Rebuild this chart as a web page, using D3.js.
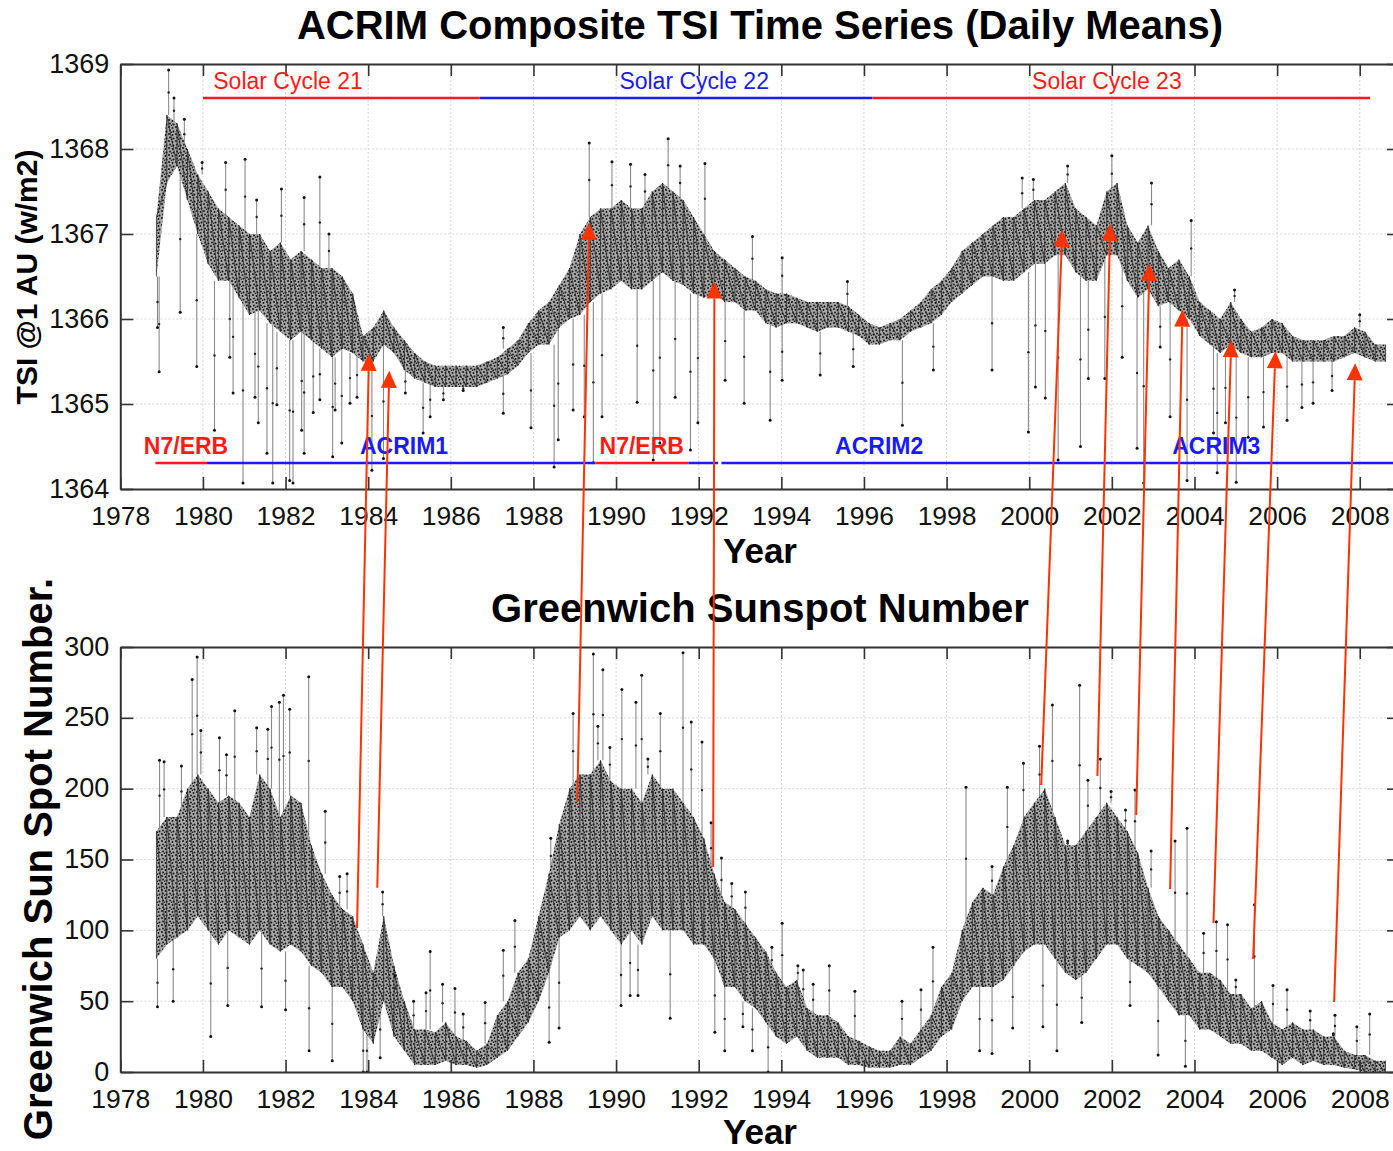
<!DOCTYPE html>
<html>
<head>
<meta charset="utf-8">
<script src="https://cdn.jsdelivr.net/npm/d3@7"></script>
<style>
  body { margin: 0; background: #fff; }
  svg { display: block; font-family: "Liberation Sans", Arial, Helvetica, sans-serif; }
</style>
</head>
<body>
<div id="chart"></div>
<script>
// quarter-year sampling grid for the core band of each series
const years = d3.range(120).map(i => 1978.875 + i * 0.25);

// TSI core band (W/m2), low and high edges
const tsiLo = [1366.5,1367.6,1367.8,1367.4,1367.0,1366.65,1366.45,1366.45,1366.25,1366.05,1366.1,1365.95,1365.85,1365.75,1365.85,1365.75,1365.65,1365.55,1365.65,1365.6,
  1365.5,1365.5,1365.7,1365.6,1365.4,1365.3,1365.25,1365.2,1365.2,1365.2,1365.2,1365.2,1365.25,1365.3,1365.35,1365.45,1365.6,1365.7,1365.7,1365.9,
  1366.0,1366.05,1366.2,1366.3,1366.35,1366.45,1366.35,1366.35,1366.45,1366.55,1366.45,1366.4,1366.3,1366.25,1366.3,1366.2,1366.2,1366.1,1366.1,1365.95,
  1365.9,1365.95,1365.95,1365.9,1365.85,1365.9,1365.9,1365.85,1365.8,1365.7,1365.7,1365.75,1365.75,1365.85,1365.9,1365.95,1366.05,1366.2,1366.3,1366.4,
  1366.5,1366.5,1366.45,1366.45,1366.55,1366.65,1366.65,1366.75,1366.75,1366.55,1366.45,1366.45,1366.75,1366.75,1366.45,1366.25,1366.35,1366.15,1366.2,1366.1,
  1366.0,1365.8,1365.7,1365.6,1365.7,1365.6,1365.55,1365.55,1365.6,1365.6,1365.5,1365.5,1365.5,1365.5,1365.5,1365.55,1365.6,1365.55,1365.5,1365.5];
const tsiHi = [1367.2,1368.4,1368.3,1368.0,1367.7,1367.5,1367.3,1367.2,1367.1,1367.0,1367.0,1366.8,1366.9,1366.7,1366.8,1366.7,1366.6,1366.6,1366.5,1366.3,
  1365.8,1365.9,1366.1,1365.9,1365.75,1365.6,1365.5,1365.45,1365.45,1365.45,1365.45,1365.45,1365.5,1365.55,1365.65,1365.75,1365.95,1366.1,1366.2,1366.4,
  1366.6,1367.0,1367.2,1367.3,1367.3,1367.4,1367.3,1367.3,1367.5,1367.6,1367.5,1367.4,1367.2,1367.0,1366.8,1366.7,1366.6,1366.5,1366.45,1366.35,
  1366.3,1366.3,1366.25,1366.2,1366.2,1366.2,1366.2,1366.15,1366.05,1365.95,1365.9,1365.95,1366.0,1366.1,1366.2,1366.35,1366.45,1366.6,1366.8,1366.9,
  1367.0,1367.1,1367.2,1367.2,1367.3,1367.4,1367.4,1367.5,1367.6,1367.3,1367.2,1367.1,1367.5,1367.6,1367.1,1366.9,1367.1,1366.8,1366.6,1366.7,
  1366.5,1366.2,1366.1,1366.0,1366.2,1366.0,1365.85,1365.9,1366.0,1365.95,1365.8,1365.75,1365.75,1365.75,1365.8,1365.8,1365.9,1365.85,1365.7,1365.7];

// isolated TSI excursions [year, W/m2]
const tsiSpikes = [[1978.94,1365.38],[1978.9,1365.9],[1979.17,1368.93],[1979.3,1368.6],[1979.45,1366.08],[1979.55,1368.35],[1979.85,1365.44],
  [1979.98,1367.84],[1980.28,1364.69],[1980.55,1367.84],[1980.65,1365.55],[1980.73,1365.13],[1980.97,1364.07],[1981.02,1367.88],[1981.26,1365.08],
  [1981.3,1367.4],[1981.34,1364.78],[1981.55,1364.42],[1981.69,1364.07],[1981.79,1364.99],[1981.9,1367.53],[1982.1,1364.1],[1982.18,1364.07],
  [1982.39,1364.69],[1982.45,1364.42],[1982.45,1367.43],[1982.67,1364.9],[1982.83,1367.67],[1982.83,1365.05],[1983.05,1367.0],[1983.14,1364.38],
  [1983.2,1364.93],[1983.36,1364.54],[1983.56,1365.01],[1983.73,1365.08],[1984.09,1364.22],[1984.37,1364.36],[1984.9,1365.13],[1985.33,1364.66],
  [1985.5,1364.85],[1985.82,1365.05],[1986.3,1365.16],[1987.27,1364.89],[1987.27,1365.9],[1987.94,1364.72],[1988.5,1364.26],[1988.6,1364.58],
  [1988.96,1364.93],[1989.23,1364.85],[1989.35,1368.07],[1989.45,1364.31],[1989.66,1364.85],[1989.9,1367.85],[1990.35,1367.82],[1990.51,1365.02],
  [1990.7,1367.7],[1990.9,1364.34],[1991.06,1364.54],[1991.26,1368.12],[1991.43,1365.08],[1991.55,1367.8],[1991.8,1364.46],[1991.98,1364.78],
  [1992.15,1367.83],[1992.64,1365.28],[1993.1,1365.01],[1993.3,1366.97],[1993.73,1364.81],[1994.02,1365.28],[1994.02,1366.72],[1994.94,1365.34],
  [1995.6,1366.44],[1995.74,1365.44],[1996.93,1364.75],[1997.68,1365.4],[1999.1,1365.4],[1999.83,1367.66],[1999.98,1364.67],[2000.1,1367.64],
  [2000.15,1365.2],[2000.39,1365.07],[2000.7,1364.34],[2000.93,1367.8],[2001.24,1364.5],[2001.43,1365.3],[2001.83,1365.3],[2002.0,1367.92],
  [2002.25,1365.55],[2002.61,1364.48],[2002.77,1364.07],[2002.96,1367.6],[2003.17,1365.67],[2003.41,1364.85],[2003.82,1364.1],[2003.92,1367.16],
  [2004.46,1364.66],[2004.55,1364.19],[2004.75,1364.78],[2004.97,1366.34],[2005.01,1364.08],[2005.3,1364.61],[2005.67,1364.73],[2006.24,1364.81],
  [2006.6,1364.96],[2006.87,1365.01],[2007.33,1365.16],[2008.0,1366.05]];

// sunspot number core band
const sunLo = [80,90,95,100,110,100,90,100,95,90,100,90,85,90,85,75,70,60,60,50,
  30,20,50,25,15,5,5,5,8,5,5,3,5,10,15,25,35,50,70,95,
  100,110,100,110,100,90,100,90,110,100,100,100,90,90,80,60,60,50,45,35,
  25,20,25,15,10,10,10,5,5,3,3,3,5,5,10,15,25,30,50,60,
  60,60,65,75,85,90,90,80,70,65,70,80,90,90,80,75,70,60,50,40,
  40,30,30,25,20,20,15,15,10,5,10,5,8,5,5,3,2,0,0,0];
const sunHi = [170,180,180,200,210,200,190,195,190,180,210,200,180,195,190,160,140,125,115,110,
  90,70,110,75,50,30,30,28,35,25,22,15,20,40,50,70,80,110,140,175,
  200,210,210,220,205,200,200,190,210,200,200,190,180,165,140,120,115,105,95,85,
  70,60,65,45,40,40,35,25,22,18,15,15,25,20,30,40,60,70,100,120,
  130,125,145,160,180,190,200,180,160,160,170,180,190,180,170,155,130,110,100,90,
  80,70,70,65,55,55,45,50,35,30,35,30,30,25,25,15,12,12,8,8];

// isolated sunspot excursions [year, number]
const sunSpikes = [[1978.9,46],[1978.95,220],[1979.06,219],[1979.28,50],[1979.48,216],[1979.74,277],[1979.86,293],[1979.95,241],[1980.19,25],
  [1980.4,236],[1980.57,224],[1980.6,47],[1980.77,255],[1981.3,243],[1981.42,46],[1981.57,242],[1981.66,258],[1981.85,261],[1981.95,266],
  [1982.0,44],[1982.1,256],[1982.56,279],[1982.57,15],[1982.96,184],[1983.13,8],[1983.31,138],[1983.49,140],[1983.88,0],[1983.97,0],
  [1984.29,10],[1984.35,127],[1984.65,68],[1985.1,50],[1985.4,56],[1985.5,85],[1985.8,62],[1986.1,59],[1986.3,41],[1986.83,49],[1987.27,86],
  [1987.55,107],[1988.38,21],[1988.42,165],[1988.62,31],[1988.96,253],[1989.45,295],[1989.56,244],[1989.68,284],[1989.85,229],[1990.12,47],
  [1990.14,270],[1990.34,54],[1990.48,261],[1990.53,54],[1990.62,280],[1990.77,221],[1991.07,253],[1991.31,38],[1991.62,296],[1991.82,247],
  [1992.08,233],[1992.3,176],[1992.39,28],[1992.55,151],[1992.63,15],[1992.8,133],[1993.07,32],[1993.13,127],[1993.3,15],[1993.68,0],
  [1993.77,88],[1994.02,105],[1994.4,75],[1994.53,72],[1994.77,62],[1995.16,75],[1995.78,57],[1996.92,50],[1997.38,58],[1997.67,88],
  [1998.47,201],[1998.8,15],[1999.1,145],[1999.1,13],[1999.47,201],[1999.6,31],[1999.86,218],[2000.25,230],[2000.33,32],[2000.56,259],
  [2000.67,15],[2000.93,163],[2001.22,273],[2001.27,35],[2001.42,206],[2001.72,221],[2001.98,198],[2002.33,185],[2002.44,47],[2002.56,199],
  [2002.95,156],[2003.12,12],[2003.53,163],[2003.78,4],[2003.82,172],[2004.22,98],[2004.53,106],[2004.8,104],[2005.0,65],[2005.45,118],
  [2005.9,61],[2006.24,58],[2006.8,43],[2007.36,27],[2007.4,40],[2007.93,32],[2008.24,41]];

// tick labels
const xTicks = d3.range(1978, 2009, 2);
const tsiTicks = [1364, 1365, 1366, 1367, 1368, 1369];
const sunTicks = [0, 50, 100, 150, 200, 250, 300];

// solar cycle bars and instrument bars
const cycles = [
  { label: 'Solar Cycle 21', start: 1980.0, end: 1986.7, labelAt: 1980.25, color: '#ff1a1a' },
  { label: 'Solar Cycle 22', start: 1986.7, end: 1996.2, labelAt: 1990.08, color: '#1a1aff' },
  { label: 'Solar Cycle 23', start: 1996.2, end: 2008.25, labelAt: 2000.07, color: '#ff1a1a' }
];
const instrumentBars = [
  { start: 1978.85, end: 1980.1, color: '#ff1a1a' },
  { start: 1980.1, end: 1989.5, color: '#1a1aff' },
  { start: 1989.5, end: 1991.75, color: '#ff1a1a' },
  { start: 1991.75, end: 1992.47, color: '#1a1aff' },
  { start: 1992.55, end: 2008.95, color: '#1a1aff' }
];
const instrumentLabels = [
  { label: 'N7/ERB', at: 1978.57, color: '#ff1a1a' },
  { label: 'ACRIM1', at: 1983.8, color: '#1a1aff' },
  { label: 'N7/ERB', at: 1989.6, color: '#ff1a1a' },
  { label: 'ACRIM2', at: 1995.3, color: '#1a1aff' },
  { label: 'ACRIM3', at: 2003.46, color: '#1a1aff' }
];

// arrows: sunspot point (tail) -> TSI point (head)
const arrows = [
  { ss: [1983.73, 101.6], tsi: [1984.02, 1365.59] },
  { ss: [1984.22, 130], tsi: [1984.51, 1365.39] },
  { ss: [1989.06, 190.6], tsi: [1989.35, 1367.13] },
  { ss: [1992.35, 144.7], tsi: [1992.38, 1366.44] },
  { ss: [2000.29, 202.6], tsi: [2000.80, 1367.05] },
  { ss: [2001.65, 209], tsi: [2001.96, 1367.12] },
  { ss: [2002.59, 181.4], tsi: [2002.91, 1366.65] },
  { ss: [2003.41, 129.2], tsi: [2003.71, 1366.11] },
  { ss: [2004.46, 105.2], tsi: [2004.89, 1365.75] },
  { ss: [2005.42, 79.8], tsi: [2005.96, 1365.62] },
  { ss: [2007.38, 49.4], tsi: [2007.89, 1365.48] }
];

const width = 1393, height = 1151;
const left = 120.3, right = 1399;
const svg = d3.select('#chart').append('svg')
  .attr('width', width).attr('height', height)
  .style('overflow', 'hidden');

const defs = svg.append('defs');
const pat = defs.append('pattern').attr('id', 'speck')
  .attr('width', 7).attr('height', 7).attr('patternUnits', 'userSpaceOnUse');
pat.append('rect').attr('width', 7).attr('height', 7).attr('fill', '#a6a6a6');
[[1, 1, 1], [4.5, 2, 0.9], [2, 4.5, 0.9], [5.5, 5.5, 1], [3.5, 6.2, 0.7]].forEach(p =>
  pat.append('circle').attr('cx', p[0]).attr('cy', p[1]).attr('r', p[2]).attr('fill', '#111'));

const x = d3.scaleLinear().domain([1978, 2008.95]).range([left, right]);
const yT = d3.scaleLinear().domain([1364, 1369]).range([489, 64]);
const yS = d3.scaleLinear().domain([0, 300]).range([1072, 647]);

function panel(y, ticks, lo, hi, spikes, id) {
  const [y0, y1] = y.range();
  defs.append('clipPath').attr('id', id)
    .append('rect').attr('x', left).attr('y', y1).attr('width', right - left).attr('height', y0 - y1);

  // grid
  const grid = svg.append('g').attr('stroke', '#d4d4d4').attr('stroke-width', 1).attr('stroke-dasharray', '2,2');
  grid.selectAll('.gx').data(xTicks.slice(1)).enter().append('line')
    .attr('x1', d => x(d)).attr('x2', d => x(d)).attr('y1', y1).attr('y2', y0);
  grid.selectAll('.gy').data(ticks.slice(1, -1)).enter().append('line')
    .attr('x1', left).attr('x2', right).attr('y1', d => y(d)).attr('y2', d => y(d));

  const g = svg.append('g').attr('clip-path', 'url(#' + id + ')');
  const pts = years.map((t, i) => ({ t: t, lo: lo[i], hi: hi[i] }));

  // spikes behind the core
  const spk = spikes.map(s => {
    const i = d3.minIndex(years, t => Math.abs(t - s[0]));
    const base = s[1] > hi[i] ? hi[i] : (s[1] < lo[i] ? lo[i] : (lo[i] + hi[i]) / 2);
    return { t: s[0], v: s[1], base: base };
  });
  g.selectAll('.spike').data(spk).enter().append('line')
    .attr('x1', d => x(d.t)).attr('x2', d => x(d.t))
    .attr('y1', d => y(d.base)).attr('y2', d => y(d.v))
    .attr('stroke', '#8a8a8a').attr('stroke-width', 1.1);

  g.append('path').datum(pts)
    .attr('fill', 'url(#speck)')
    .attr('d', d3.area().x(d => x(d.t)).y0(d => y(d.lo)).y1(d => y(d.hi)));

  // saw-tooth scribble through the band edges
  const saw = [];
  pts.forEach(p => { saw.push([x(p.t), y(p.lo)]); saw.push([x(p.t), y(p.hi)]); });
  g.append('path').attr('d', d3.line()(saw))
    .attr('fill', 'none').attr('stroke', '#2a2a2a').attr('stroke-width', 0.8);
  g.selectAll('.tip').data(spk).enter().append('circle')
    .attr('cx', d => x(d.t)).attr('cy', d => y(d.v)).attr('r', 1.5).attr('fill', '#111');
  g.selectAll('.mid').data(spk).enter().append('circle')
    .attr('cx', d => x(d.t)).attr('cy', d => (y(d.v) + y(d.base)) / 2).attr('r', 1.2).attr('fill', '#222');

  // axes: inward ticks on all four sides
  const ax = svg.append('g');
  const bx = ax.append('g').attr('transform', 'translate(0,' + y0 + ')')
    .call(d3.axisBottom(x).tickValues(xTicks).tickSizeInner(-12).tickSizeOuter(0).tickPadding(17).tickFormat(d3.format('d')));
  ax.append('g').attr('transform', 'translate(0,' + y1 + ')')
    .call(d3.axisTop(x).tickValues(xTicks).tickSizeInner(-12).tickSizeOuter(0).tickFormat(''));
  const lx = ax.append('g').attr('transform', 'translate(' + left + ',0)')
    .call(d3.axisLeft(y).tickValues(ticks).tickSizeInner(-13).tickSizeOuter(0).tickPadding(11).tickFormat(d3.format('d')));
  ax.append('g').attr('transform', 'translate(' + right + ',0)')
    .call(d3.axisRight(y).tickValues(ticks).tickSizeInner(-12).tickSizeOuter(0).tickFormat(''));
  ax.selectAll('.domain').attr('stroke', '#333').attr('stroke-width', 2);
  ax.selectAll('.tick line').attr('stroke', '#333').attr('stroke-width', 1.6);
  ax.selectAll('text').attr('fill', '#111')
    .style('font-family', '"Liberation Sans", Arial, sans-serif');
  bx.selectAll('text').style('font-size', '26.5px');
  lx.selectAll('text').style('font-size', '27px').attr('dy', '0.3em');
}

panel(yT, tsiTicks, tsiLo, tsiHi, tsiSpikes, 'clipT');
panel(yS, sunTicks, sunLo, sunHi, sunSpikes, 'clipS');

// solar cycle bars
svg.selectAll('.cyc').data(cycles).enter().append('line')
  .attr('x1', d => x(d.start)).attr('x2', d => x(d.end)).attr('y1', 98).attr('y2', 98)
  .attr('stroke', d => d.color).attr('stroke-width', 2.5);
svg.selectAll('.cyclab').data(cycles).enter().append('text')
  .attr('x', d => x(d.labelAt)).attr('y', 89).attr('fill', d => d.color)
  .style('font-size', '23px').text(d => d.label);

// instrument bars
svg.selectAll('.ins').data(instrumentBars).enter().append('line')
  .attr('x1', d => x(d.start)).attr('x2', d => x(d.end)).attr('y1', 463).attr('y2', 463)
  .attr('stroke', d => d.color).attr('stroke-width', 2.5);
svg.selectAll('.inslab').data(instrumentLabels).enter().append('text')
  .attr('x', d => x(d.at)).attr('y', 454).attr('fill', d => d.color)
  .style('font-size', '23px').style('font-weight', 'bold').text(d => d.label);

// titles and axis labels
const bold = (t, px, tx, ty, rot) => svg.append('text')
  .attr('transform', 'translate(' + tx + ',' + ty + ')' + (rot ? ' rotate(-90)' : ''))
  .attr('text-anchor', 'middle').style('font-size', px + 'px').style('font-weight', 'bold')
  .attr('fill', '#000').text(t);
bold('ACRIM Composite TSI Time Series (Daily Means)', 40, 760, 39);
bold('Year', 35, 760, 563);
bold('Greenwich Sunspot Number', 40, 760, 622);
bold('Year', 35, 760, 1144);
bold('TSI @1 AU (w/m2)', 30, 37, 277, true);
bold('Greenwich Sun Spot Number.', 40, 52, 859, true);

// arrows from sunspot panel up to TSI panel
const ag = svg.append('g');
arrows.forEach(a => {
  const x0 = x(a.ss[0]), y0 = yS(a.ss[1]);
  const x1 = x(a.tsi[0]), y1 = yT(a.tsi[1]);
  const len = Math.hypot(x1 - x0, y1 - y0);
  const ux = (x1 - x0) / len, uy = (y1 - y0) / len;
  const hl = 17, hw = 8;
  const hx = x1 - ux * hl, hy = y1 - uy * hl;
  ag.append('line').attr('x1', x0).attr('y1', y0).attr('x2', hx).attr('y2', hy)
    .attr('stroke', '#ff3300').attr('stroke-width', 2);
  ag.append('path')
    .attr('d', 'M' + x1 + ',' + y1 + 'L' + (hx - uy * hw) + ',' + (hy + ux * hw) + 'L' + (hx + uy * hw) + ',' + (hy - ux * hw) + 'Z')
    .attr('fill', '#ff3300');
});
</script>
</body>
</html>
